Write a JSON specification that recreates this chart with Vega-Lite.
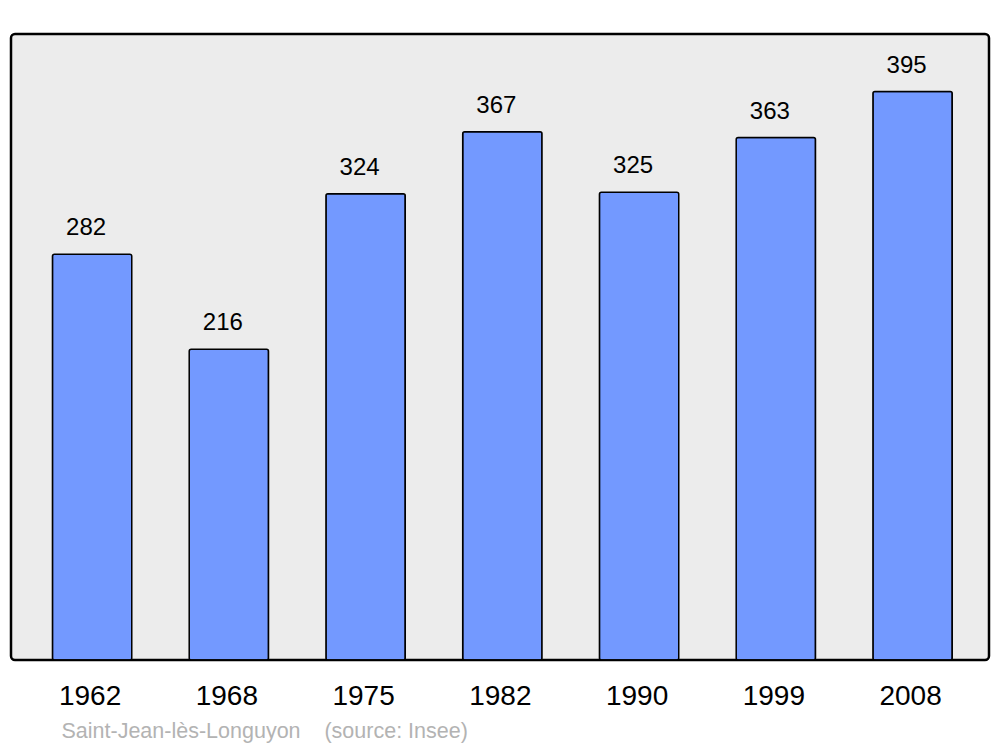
{
  "$schema": "https://vega.github.io/schema/vega-lite/v6.json",
  "width": 978,
  "height": 626,
  "padding": {"left": 11, "top": 34, "right": 11, "bottom": 87},
  "autosize": {"type": "none"},
  "background": "#ffffff",
  "config": {
    "view": {"fill": "#ececec", "stroke": "#000000", "strokeWidth": 2.5, "cornerRadius": 4},
    "font": "Liberation Sans"
  },
  "data": {
    "values": [
      {"year": "1962", "population": 282},
      {"year": "1968", "population": 216},
      {"year": "1975", "population": 324},
      {"year": "1982", "population": 367},
      {"year": "1990", "population": 325},
      {"year": "1999", "population": 363},
      {"year": "2008", "population": 395}
    ]
  },
  "encoding": {
    "x": {
      "field": "year",
      "type": "ordinal",
      "sort": null,
      "scale": {"paddingInner": 0.42, "paddingOuter": 0.286, "align": 0.53},
      "axis": {
        "labelAngle": 0,
        "labelFontSize": 28,
        "labelColor": "#000000",
        "labelBaseline": "alphabetic",
        "labelPadding": 44,
        "labelOffset": -2,
        "ticks": false,
        "domain": false,
        "title": "Saint-Jean-lès-Longuyon\u00a0\u00a0\u00a0\u00a0(source: Insee)",
        "titleFontSize": 21.5,
        "titleFontWeight": "normal",
        "titleColor": "#b3b3b3",
        "titleAlign": "left",
        "titleAnchor": null,
        "titleX": 50,
        "titleY": 77,
        "titleBaseline": "alphabetic"
      }
    },
    "y": {
      "field": "population",
      "type": "quantitative",
      "scale": {"domain": [0, 435], "nice": false},
      "axis": null
    }
  },
  "layer": [
    {
      "mark": {"type": "bar", "fill": "#7399ff", "stroke": "#000000", "strokeWidth": 1.5, "cornerRadius": 2}
    },
    {
      "mark": {"type": "text", "fontSize": 24, "baseline": "alphabetic", "dy": -19, "dx": -6, "color": "#000000"},
      "encoding": {"text": {"field": "population", "type": "quantitative"}}
    }
  ]
}
